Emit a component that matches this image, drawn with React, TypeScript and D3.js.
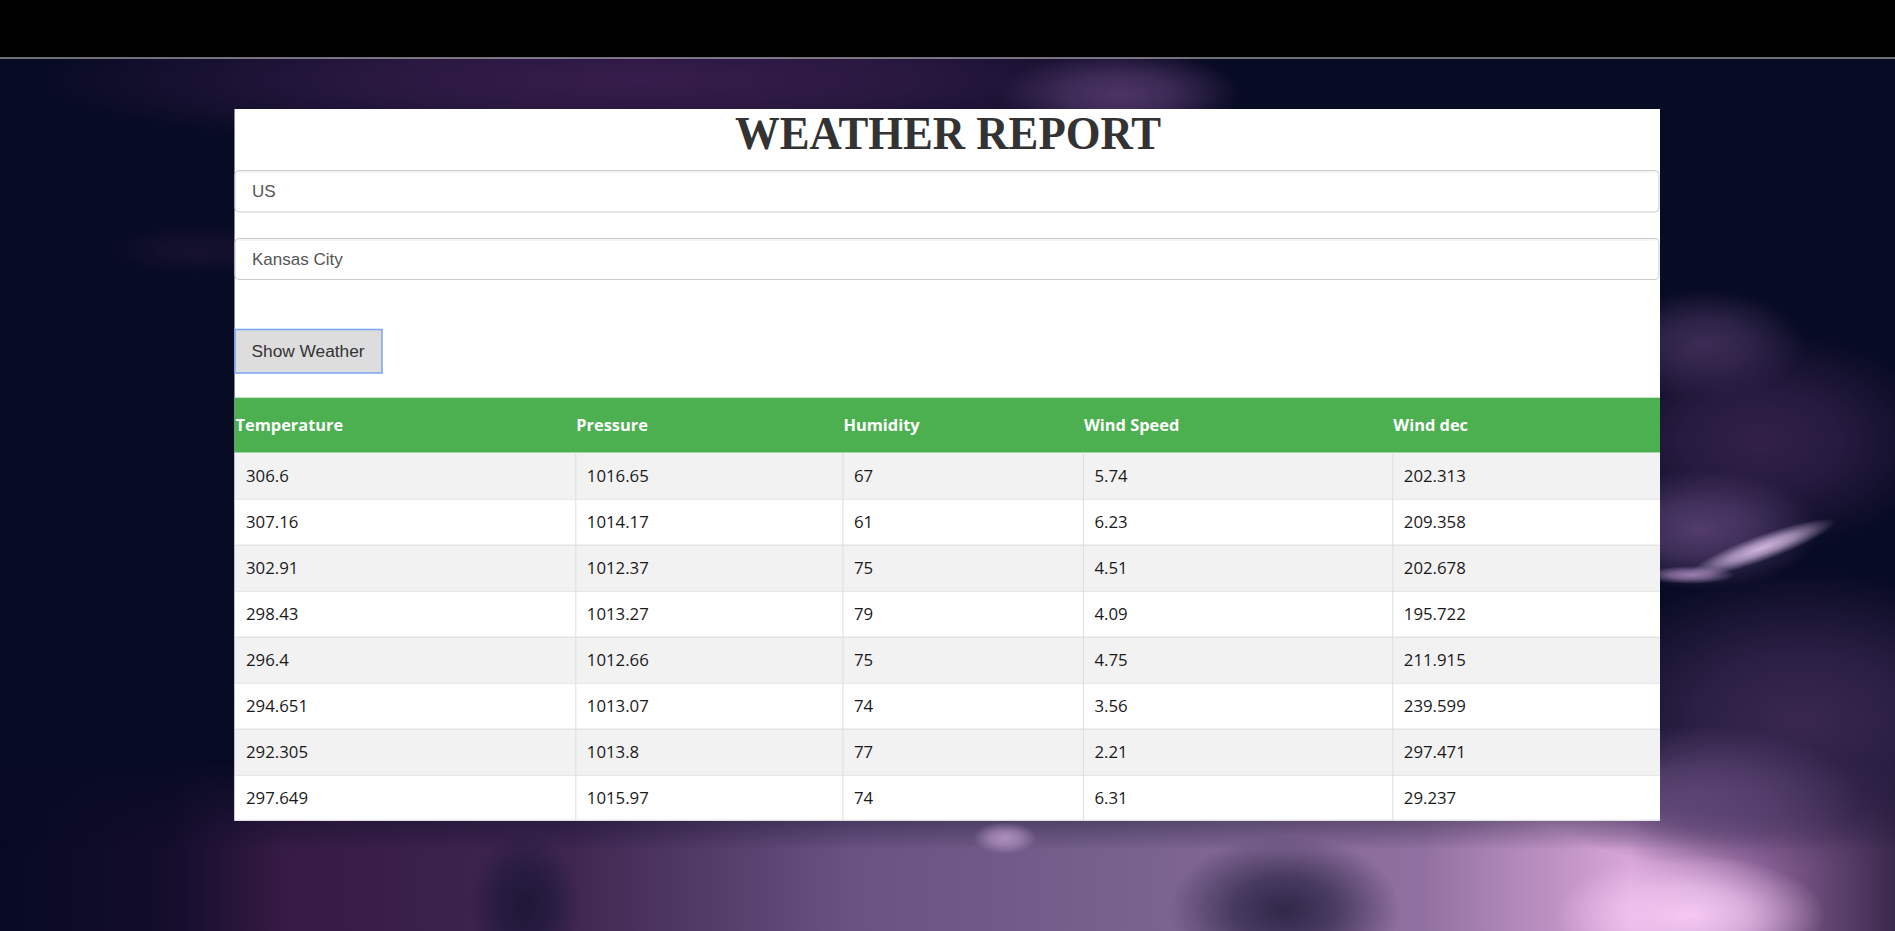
import React, { useEffect } from 'react';
import * as d3 from 'd3';

// table data, one array per column
const columns = ['Temperature', 'Pressure', 'Humidity', 'Wind Speed', 'Wind dec'];
const temperature = [306.6, 307.16, 302.91, 298.43, 296.4, 294.651, 292.305, 297.649];
const pressure = [1016.65, 1014.17, 1012.37, 1013.27, 1012.66, 1013.07, 1013.8, 1015.97];
const humidity = [67, 61, 75, 79, 75, 74, 77, 74];
const windSpeed = [5.74, 6.23, 4.51, 4.09, 4.75, 3.56, 2.21, 6.31];
const windDeg = [202.313, 209.358, 202.678, 195.722, 211.915, 239.599, 297.471, 29.237];
const country = 'US';
const city = 'Kansas City';
const title = 'WEATHER REPORT';
const buttonLabel = 'Show Weather';

const W = 1895;
const H = 931;
const panel = { x0: 234.5, x1: 1660, y0: 109, y1: 820.7 };
const colWidths = [340.8, 267.1, 240.5, 309.4, 267.7];
const headTop = 397.7;
const headBottom = 452.7;

const tableFont = "'Open Sans', 'Noto Sans', sans-serif";
const formFont = "'Liberation Sans', Arial, sans-serif";

// soft background blobs for the stormy sky (decoration only)
const glows = [
  { cx: 640, cy: 80, rx: 600, ry: 75, c: '#3a1e4e', o: 0.95 },
  { cx: 1120, cy: 95, rx: 120, ry: 45, c: '#54396c', o: 0.9 },
  { cx: 200, cy: 250, rx: 90, ry: 25, c: '#1e1536', o: 0.6 },
  { cx: 1705, cy: 345, rx: 100, ry: 55, c: '#4a3562', o: 0.8 },
  { cx: 1760, cy: 440, rx: 180, ry: 110, c: '#3a2450', o: 0.85 },
  { cx: 1700, cy: 530, rx: 120, ry: 60, c: '#5e4478', o: 0.85 },
  { cx: 1800, cy: 720, rx: 240, ry: 150, c: '#3f2a55', o: 0.9 },
  { cx: 1700, cy: 795, rx: 160, ry: 70, c: '#5e4676', o: 0.9 },
  { cx: 525, cy: 905, rx: 55, ry: 75, c: '#1a1636', o: 0.9 },
  { cx: 1285, cy: 910, rx: 115, ry: 75, c: '#262040', o: 0.9 },
  { cx: 1690, cy: 915, rx: 135, ry: 60, c: '#f8ccf6', o: 0.95 },
  { cx: 1005, cy: 838, rx: 32, ry: 16, c: '#c0a0d0', o: 0.8 },
  { cx: 1762, cy: 548, rx: 78, ry: 13, c: '#e2c6ee', o: 0.9, rot: -20 },
  { cx: 1690, cy: 575, rx: 45, ry: 9, c: '#b896cc', o: 0.8 },
];

const App: React.FC = () => {
  useEffect(() => {
    document.body.style.margin = '0';
    document.body.style.overflow = 'hidden';
  }, []);

  const series = [temperature, pressure, humidity, windSpeed, windDeg];
  const lefts = [panel.x0, ...Array.from(d3.cumsum(colWidths)).map((d) => panel.x0 + d)];

  const xScale = d3.scaleOrdinal<string, number>().domain(columns).range(lefts.slice(0, columns.length));
  const yScale = d3.scaleBand<number>()
    .domain(d3.range(temperature.length))
    .range([headBottom, panel.y1])
    .paddingInner(0);

  const rowH = yScale.bandwidth();
  const inputs = [
    { label: country, y: 170.5, h: 41.5 },
    { label: city, y: 238.5, h: 41 },
  ];

  return (
    <svg width={W} height={H} style={{ position: 'absolute', left: 0, top: 0, display: 'block' }}>
      <defs>
        {glows.map((g, i) => (
          <radialGradient key={i} id={`glow${i}`}>
            <stop offset="0" stopColor={g.c} stopOpacity={g.o} />
            <stop offset="0.45" stopColor={g.c} stopOpacity={g.o * 0.7} />
            <stop offset="1" stopColor={g.c} stopOpacity={0} />
          </radialGradient>
        ))}
        <linearGradient id="bottomGrad" x1="0" x2="1" y1="0" y2="0">
          <stop offset="0" stopColor="#070a22" />
          <stop offset="0.09" stopColor="#140d2c" />
          <stop offset="0.15" stopColor="#361b44" />
          <stop offset="0.3" stopColor="#3e2650" />
          <stop offset="0.45" stopColor="#6a5282" />
          <stop offset="0.58" stopColor="#76608c" />
          <stop offset="0.75" stopColor="#9070a0" />
          <stop offset="0.86" stopColor="#d8a6d8" />
          <stop offset="0.93" stopColor="#8a6296" />
          <stop offset="1" stopColor="#3a284c" />
        </linearGradient>
        <linearGradient id="fadeDown" x1="0" x2="0" y1="0" y2="1">
          <stop offset="0" stopColor="#fff" stopOpacity={0} />
          <stop offset="1" stopColor="#fff" stopOpacity={1} />
        </linearGradient>
        <mask id="bottomMask" maskUnits="userSpaceOnUse" x={0} y={760} width={W} height={171}>
          <rect x={0} y={760} width={W} height={90} fill="url(#fadeDown)" />
          <rect x={0} y={849} width={W} height={82} fill="#fff" />
        </mask>
      </defs>

      {/* background sky */}
      <rect x={0} y={0} width={W} height={H} fill="#080b24" />
      <rect x={0} y={760} width={W} height={171} fill="url(#bottomGrad)" mask="url(#bottomMask)" />
      {glows.map((g, i) => (
        <ellipse
          key={i}
          cx={g.cx}
          cy={g.cy}
          rx={g.rx}
          ry={g.ry}
          fill={`url(#glow${i})`}
          transform={g.rot ? `rotate(${g.rot} ${g.cx} ${g.cy})` : undefined}
        />
      ))}

      {/* top bar */}
      <rect x={0} y={0} width={W} height={57.5} fill="#000" />
      <line x1={0} x2={W} y1={58} y2={58} stroke="#d8d8d8" strokeWidth={1} />

      {/* panel */}
      <rect x={panel.x0} y={panel.y0} width={panel.x1 - panel.x0} height={panel.y1 - panel.y0} fill="#fff" />
      <text
        x={735}
        y={149}
        textLength={426}
        lengthAdjust="spacingAndGlyphs"
        fontFamily="'Liberation Serif', 'Times New Roman', serif"
        fontWeight="bold"
        fontSize={47}
        fill="#333"
      >
        {title}
      </text>

      {inputs.map((d) => (
        <g key={d.label}>
          <rect x={235} y={d.y} width={1424} height={d.h} rx={4} fill="#fff" stroke="#cccccc" strokeWidth={1} />
          <line x1={239} x2={1655} y1={d.y + 1.5} y2={d.y + 1.5} stroke="rgba(0,0,0,0.06)" strokeWidth={1.5} />
          <text x={252} y={d.y + d.h / 2 + 6.2} fontFamily={formFont} fontSize={17} fill="#555">
            {d.label}
          </text>
        </g>
      ))}

      <rect x={235} y={329.5} width={147} height={43.5} fill="#dddddd" stroke="#80a8f0" strokeWidth={1.6} />
      <text x={251.5} y={357} fontFamily={formFont} fontSize={17.3} fill="#333">
        {buttonLabel}
      </text>

      {/* table header */}
      <rect x={panel.x0} y={headTop} width={panel.x1 - panel.x0} height={headBottom - headTop} fill="#4caf50" />
      {columns.map((c) => (
        <text key={c} x={xScale(c) + 1} y={431} fontFamily={tableFont} fontWeight="bold" fontSize={16.4} fill="#fff">
          {c}
        </text>
      ))}

      {/* table rows */}
      {temperature.map((_, i) => (
        <g key={i}>
          <rect
            x={panel.x0}
            y={yScale(i)}
            width={panel.x1 - panel.x0}
            height={rowH}
            fill={i % 2 === 0 ? '#f2f2f2' : '#ffffff'}
          />
          {i > 0 && (
            <line x1={panel.x0} x2={panel.x1} y1={yScale(i)! + 0.5} y2={yScale(i)! + 0.5} stroke="#dddddd" />
          )}
        </g>
      ))}
      {columns.slice(1).map((c) => (
        <line key={c} x1={xScale(c) + 0.5} x2={xScale(c) + 0.5} y1={headBottom} y2={panel.y1} stroke="#dddddd" />
      ))}
      <line x1={panel.x0} x2={panel.x1} y1={panel.y1 - 0.5} y2={panel.y1 - 0.5} stroke="#dddddd" />

      {series.map((vals, ci) =>
        vals.map((v, i) => (
          <text
            key={`${ci}-${i}`}
            x={xScale(columns[ci]) + 11.5}
            y={yScale(i)! + 29}
            fontFamily={tableFont}
            fontSize={16.8}
            fill="#1a1a1a"
          >
            {String(v)}
          </text>
        ))
      )}
    </svg>
  );
};

export default App;
